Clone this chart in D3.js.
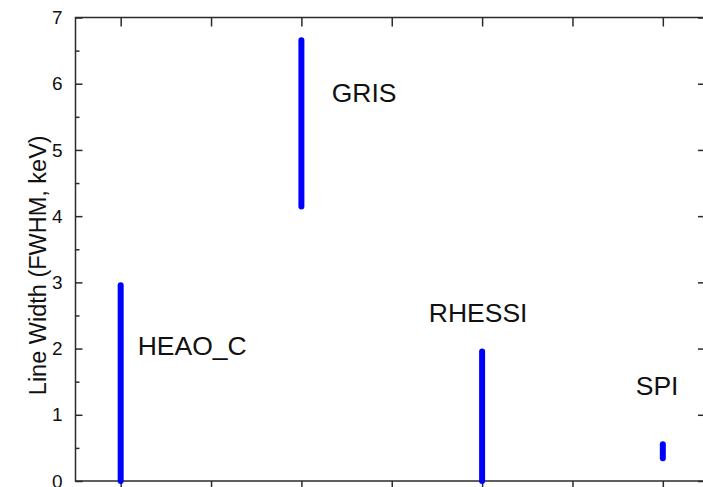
<!DOCTYPE html>
<html><head><meta charset="utf-8">
<script src="https://cdn.jsdelivr.net/npm/d3@7"></script>
<style>body{margin:0;background:#fff}svg{display:block}</style>
</head><body>
<svg id="c" width="703" height="487"></svg>
<script>
const instruments = ["HEAO_C", "GRIS", "RHESSI", "SPI"];
const positions = [1, 3, 5, 7];
const lowValues = [0, 4.1, 0, 0.3];
const highValues = [3.0, 6.7, 2.0, 0.6];
const labelX = [1.188, 3.335, 4.41, 6.70];
const labelY = [1.90, 5.72, 2.40, 1.30];
const yTicks = [0, 1, 2, 3, 4, 5, 6, 7];
const xTicks = [1, 2, 3, 4, 5, 6, 7];
const yTitle = "Line Width (FWHM, keV)";

const svg = d3.select("#c");
const L = 75.5, R = 708, T = 17.5, B = 481;
const x = d3.scaleLinear().domain([0.5, 7.5]).range([L, R]);
const y = d3.scaleLinear().domain([0, 7]).range([B, T]);
const axisColor = "#2a2a2a";
const font = "Liberation Sans, Arial, sans-serif";

// frame
svg.append("rect").attr("x", L).attr("y", T).attr("width", R - L).attr("height", B - T)
  .attr("fill", "none").attr("stroke", axisColor).attr("stroke-width", 1.5);

const minor = d3.range(0.5, 7, 1);
function style(g){ g.select(".domain").remove(); g.selectAll("line").attr("stroke", axisColor).attr("stroke-width", 1.5); }

// left axis
svg.append("g").attr("transform", `translate(${L},0)`)
  .call(d3.axisLeft(y).tickValues(yTicks).tickFormat(d3.format("d")).tickSize(-7).tickPadding(13))
  .call(style)
  .call(g => g.selectAll("text").attr("font-family", font).attr("font-size", 19).attr("fill", "#111"));
svg.append("g").attr("transform", `translate(${L},0)`)
  .call(d3.axisLeft(y).tickValues(minor).tickFormat("").tickSize(-4)).call(style);
// right axis
svg.append("g").attr("transform", `translate(${R},0)`)
  .call(d3.axisRight(y).tickValues(yTicks).tickFormat("").tickSize(-10)).call(style);
svg.append("g").attr("transform", `translate(${R},0)`)
  .call(d3.axisRight(y).tickValues(minor).tickFormat("").tickSize(-5)).call(style);
// bottom axis
svg.append("g").attr("transform", `translate(0,${B})`)
  .call(d3.axisBottom(x).tickValues(xTicks).tickFormat("").tickSize(6)).call(style);
// top axis
svg.append("g").attr("transform", `translate(0,${T})`)
  .call(d3.axisTop(x).tickValues(xTicks).tickFormat("").tickSize(-9)).call(style);

// y title
svg.append("text").attr("transform", `translate(46,${(T + B) / 2 + 16}) rotate(-90)`)
  .attr("text-anchor", "middle").attr("font-family", font).attr("font-size", 23.5).attr("fill", "#111")
  .text(yTitle);

// bars
const data = instruments.map((n, i) => ({name: n, x: positions[i], lo: lowValues[i], hi: highValues[i], lx: labelX[i], ly: labelY[i]}));
svg.append("g").selectAll("line").data(data).join("line")
  .attr("x1", d => x(d.x)).attr("x2", d => x(d.x))
  .attr("y1", d => y(d.lo) - (d.lo === 0 ? 0 : 3)).attr("y2", d => y(d.hi) + 3)
  .attr("stroke", "#0000ff").attr("stroke-width", 6).attr("stroke-linecap", "round");

svg.append("g").selectAll("text").data(data).join("text")
  .attr("x", d => x(d.lx)).attr("y", d => y(d.ly))
  .attr("font-family", font).attr("font-size", 26.5).attr("fill", "#111")
  .text(d => d.name);
</script>
</body></html>
